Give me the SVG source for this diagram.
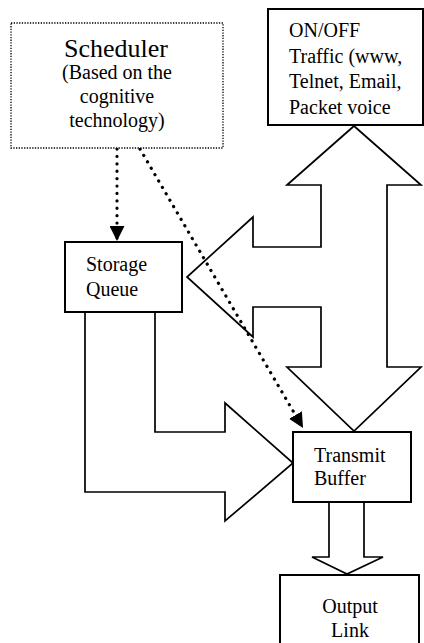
<svg xmlns="http://www.w3.org/2000/svg" width="424" height="643" viewBox="0 0 424 643" font-family="'Liberation Serif', 'Times New Roman', serif">
<style>
text{font-family:'Liberation Serif','Times New Roman',serif;fill:#000;font-size:20px}
.box{fill:#fff;stroke:#000;stroke-width:2}
.dbox{fill:#fff;stroke:#000;stroke-width:1.3;stroke-dasharray:1.3 1.4}
.arr{fill:#fff;stroke:#000;stroke-width:1.7;stroke-linejoin:miter}
.dot{fill:none;stroke:#000;stroke-width:3.2;stroke-linecap:round;stroke-dasharray:0.1 7.3}
.c{text-anchor:middle}
</style>
<defs>
<marker id="ah" markerUnits="userSpaceOnUse" markerWidth="15" markerHeight="15" viewBox="0 0 14 14" refX="14" refY="7" orient="auto">
<path d="M0,0 L14,7 L0,14 z" fill="#000"/>
</marker>
</defs>
<g id="connectors">
<path class="arr" d="M155,312 L155,432 L225,432 L225,403 L293,463 L225,521 L225,492 L85,492 L85,312"/>
<path class="arr" d="M354,126 L421,185 L387,185 L387,367 L421,367 L354,431 L287,367 L321,367 L321,307 L253,307 L253,337 L187,277 L253,217 L253,247 L321,247 L321,185 L287,185 Z"/>
<path class="arr" d="M329,502 L329,557 L312,557 L347,574 L383,557 L364,557 L364,502"/>
<path class="dot" d="M117,149 L117,241" marker-end="url(#ah)"/>
<path class="dot" d="M140,149 L303,428" marker-end="url(#ah)"/>
</g>
<g id="scheduler">
<rect class="dbox" x="11" y="23" width="212" height="125"/>
<text class="c" x="116" y="57" font-size="26" style="font-size:26px">Scheduler</text>
<text class="c" x="117" y="79">(Based on the</text>
<text class="c" x="117" y="103">cognitive</text>
<text class="c" x="117" y="127">technology)</text>
</g>
<g id="traffic">
<rect class="box" x="268" y="9" width="155" height="116"/>
<text x="289" y="37">ON/OFF</text>
<text x="289" y="62.5">Traffic (www,</text>
<text x="289" y="88">Telnet, Email,</text>
<text x="289" y="113.5">Packet voice</text>
</g>
<g id="storage">
<rect class="box" x="65" y="242" width="117" height="70"/>
<text x="86" y="271">Storage</text>
<text x="86" y="296">Queue</text>
</g>
<g id="transmit">
<rect class="box" x="293" y="432" width="118" height="70"/>
<text x="314" y="462">Transmit</text>
<text x="314" y="485">Buffer</text>
</g>
<g id="output">
<rect class="box" x="280" y="575" width="139" height="72"/>
<text class="c" x="350" y="613">Output</text>
<text class="c" x="350" y="637">Link</text>
</g>
</svg>
